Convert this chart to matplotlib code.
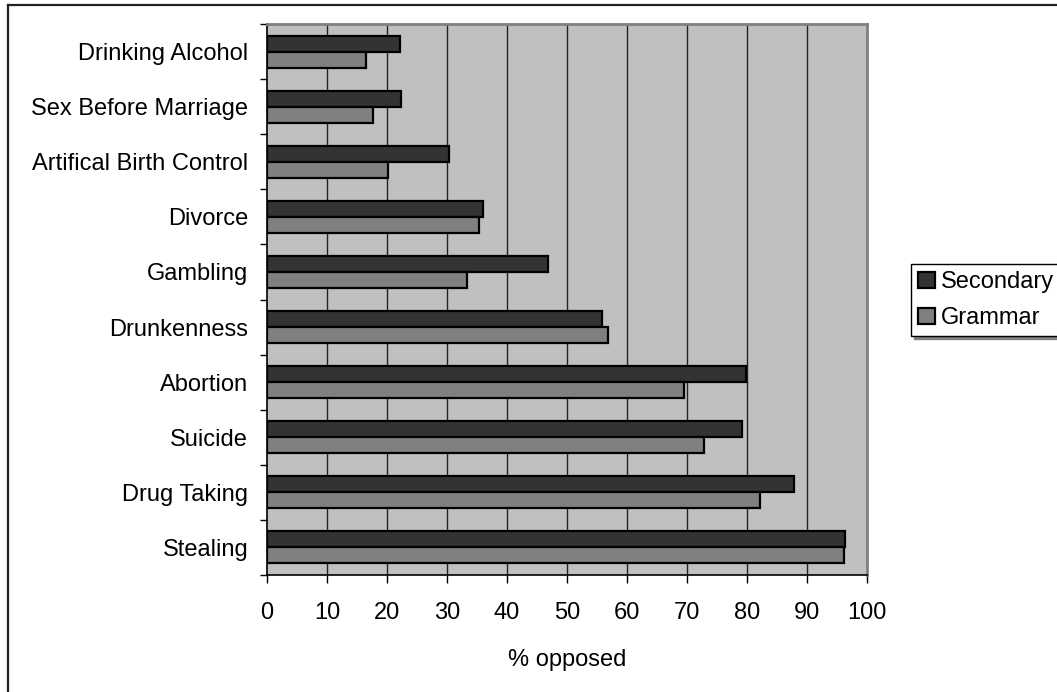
import matplotlib
matplotlib.use("Agg")
import matplotlib.pyplot as plt
import numpy as np
from matplotlib.lines import Line2D

plt.rcParams['font.family'] = ['Liberation Sans', 'DejaVu Sans']

categories = ["Drinking Alcohol", "Sex Before Marriage", "Artifical Birth Control",
              "Divorce", "Gambling", "Drunkenness", "Abortion", "Suicide",
              "Drug Taking", "Stealing"]
secondary = [22.2, 22.4, 30.4, 36.0, 46.9, 55.9, 79.9, 79.1, 87.8, 96.4]
grammar = [16.5, 17.7, 20.2, 35.3, 33.3, 56.9, 69.5, 72.8, 82.1, 96.1]
xticks = [0, 10, 20, 30, 40, 50, 60, 70, 80, 90, 100]

W, H = 1057, 692
fig = plt.figure(figsize=(W / 100, H / 100), dpi=100)
ax = fig.add_axes([267 / W, (H - 575) / H, 600 / W, 551 / H])
ax.set_facecolor('#C0C0C0')

y = np.arange(len(categories))
bh = 0.29
ax.barh(y - bh / 2, secondary, height=bh, color='#333333', edgecolor='black',
        linewidth=1.6, label='Secondary', zorder=3)
ax.barh(y + bh / 2, grammar, height=bh, color='#808080', edgecolor='black',
        linewidth=1.6, label='Grammar', zorder=3)

ax.set_xlim(0, 100)
ax.set_ylim(len(categories) - 0.5, -0.5)
ax.set_xticks(xticks)
ax.set_xticklabels([str(v) for v in xticks], fontsize=17)
ax.set_yticks(y)
ax.set_yticklabels(categories, fontsize=17)
ax.set_yticks(np.arange(len(categories) + 1) - 0.5, minor=True)
ax.tick_params(axis='y', which='major', length=0, pad=13.5)
ax.tick_params(axis='y', which='minor', length=5, width=1, direction='out', color='black')
ax.tick_params(axis='x', which='major', length=5.5, width=1, direction='out', pad=14, color='black')

for v in xticks[1:-1]:
    ax.axvline(v, color='#222222', linewidth=1, zorder=1)

for s in ['left', 'bottom']:
    ax.spines[s].set_color('black')
    ax.spines[s].set_linewidth(1.2)
for s in ['top', 'right']:
    ax.spines[s].set_color('#808080')
    ax.spines[s].set_linewidth(2)

ax.set_xlabel('% opposed', fontsize=17, labelpad=18)

leg = fig.legend(loc='upper left', bbox_to_anchor=(911 / W, 1 - 264 / H),
                 fontsize=17, frameon=True, fancybox=False,
                 shadow={'color': '#808080', 'alpha': 1},
                 handlelength=0.7, handleheight=0.7, handletextpad=0.25,
                 borderpad=0.3, labelspacing=0.6, borderaxespad=0)
leg.get_frame().set_edgecolor('black')
leg.get_frame().set_linewidth(1)

# outer chart frame
fig.add_artist(Line2D([8 / W, 8 / W], [0, 1 - 5 / H], transform=fig.transFigure,
                      color='#222222', linewidth=1.6))
fig.add_artist(Line2D([8 / W, 1], [1 - 5 / H, 1 - 5 / H], transform=fig.transFigure,
                      color='#222222', linewidth=1.6))

fig.savefig('out.png', dpi=100)
